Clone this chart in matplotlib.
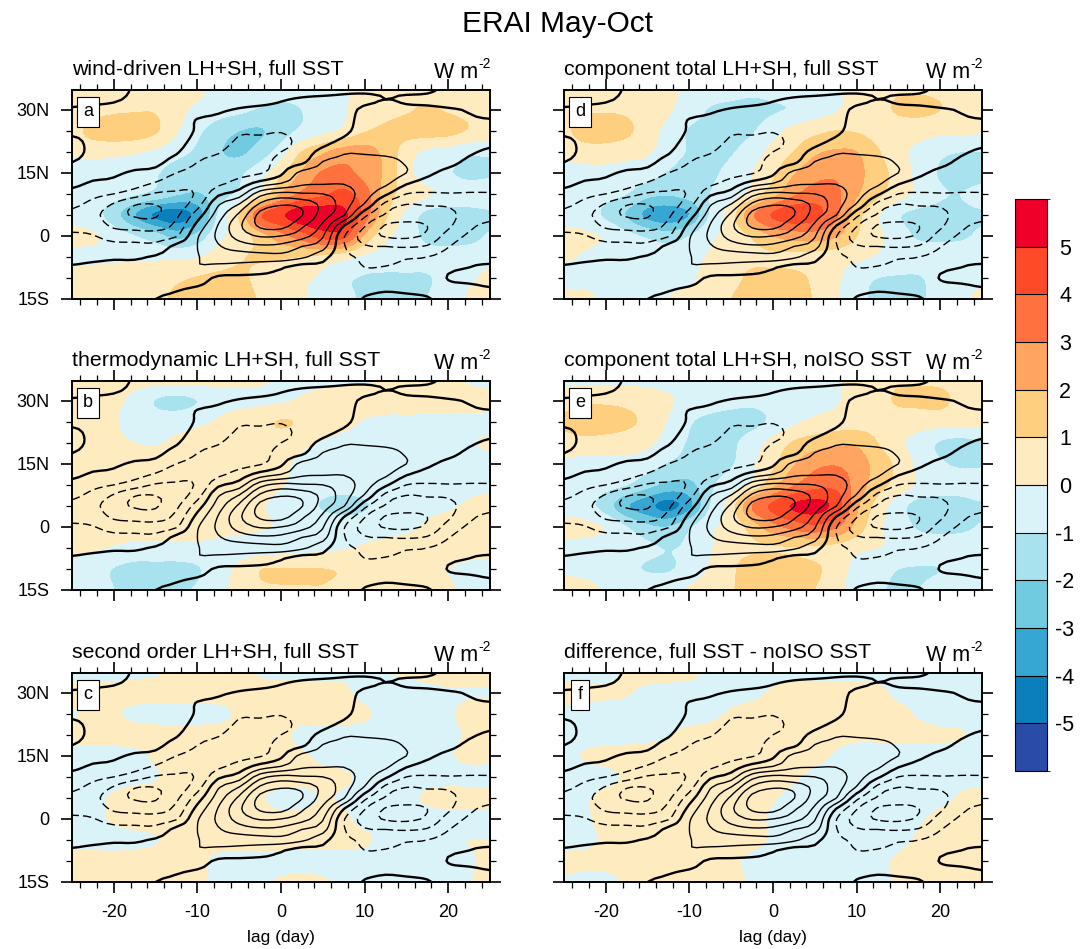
import numpy as np
import matplotlib
matplotlib.use('Agg')
from matplotlib import pyplot as plt
from matplotlib.colors import ListedColormap, BoundaryNorm

plt.rcParams['font.family'] = ['Liberation Sans', 'DejaVu Sans']
plt.rcParams['axes.unicode_minus'] = False

W, H = 1091, 949
lag = np.arange(-25.0, 25.1, 2.5)
lat_fill = np.arange(35.0, -15.1, -5.0)
lat_line = np.arange(-15.0, 35.1, 2.5)
levels = [-99, -5, -4, -3, -2, -1, 0, 1, 2, 3, 4, 5, 99]
colors = ['#2A4CA8', '#0A7FBC', '#36A6D2', '#70CBE0', '#A8E2EE', '#D9F3F9',
          '#FFEBC0', '#FFCF80', '#FFA55F', '#FF7240', '#FF4A28', '#EE0028']

# line field: one column per lag, from 15S up to 35N
line_cols = np.array([
    [.5,.6,.5,.1,-.3,-.6,-.9,-1.15,-1.2,-.8,-.3,.2,.3,0,-.3,-.2,.2,.3,.1,-.3,-.4],
    [.5,.6,.5,.2,-.2,-.6,-.95,-1.4,-1.7,-1.3,-.7,-.1,.2,.3,.2,.2,.3,.3,.15,-.2,-.4],
    [.5,.6,.5,.2,-.1,-.7,-1.4,-2.2,-2.6,-2.1,-1,-.2,.1,.3,.2,.2,.3,.3,.2,-.1,-.4],
    [.5,.55,.4,.2,-.1,-.7,-1.5,-2.4,-3.1,-2.95,-1.5,-.6,-.1,.2,.2,.2,.3,.3,.3,.15,.1],
    [0,.3,.4,.3,.1,-.7,-1.5,-2.5,-3.1,-3,-2.1,-1.1,-.3,.2,.3,.3,.3,.3,.3,.2,.1],
    [-.2,.1,.5,.6,.5,.3,-1.1,-1.7,-2.2,-2.5,-2.1,-1.7,-1,-.4,.1,.3,.4,.4,.3,.2,.1],
    [-.6,-.1,.4,.95,.95,1,.9,.3,-.5,-1.4,-1.9,-1.7,-1.3,-1,-.7,-.3,-.1,-.05,.3,.3,.1],
    [-.6,-.3,-.15,.75,1.4,1.9,2.2,2.05,1.5,.9,-.2,-1.2,-1.3,-1.2,-.95,-.7,-.5,-.2,.1,.2,.1],
    [-.5,-.3,-.2,.7,1.4,2.5,3.4,3.8,3.2,2.05,.5,-.6,-1.3,-1.4,-1.3,-1.1,-.9,-.5,-.05,.2,.2],
    [-.6,-.3,-.2,.5,1.5,2.8,4.1,5.2,5.3,4.2,2.6,.4,-1.1,-1.5,-1.6,-1.3,-.8,-.5,-.15,.2,.2],
    [-.5,-.3,-.2,.1,1.6,2.7,4,5.4,5.7,4.9,3.3,1,-.2,-.5,-1,-1.4,-.9,-.5,-.2,.05,.2],
    [-.5,-.3,-.3,-.4,1.2,2,3.4,4.2,5.05,4.7,3.1,1.8,1.3,-.2,-.5,-.6,-.5,-.4,-.3,-.05,.2],
    [-.5,-.4,-.3,-.2,.3,1.4,2.1,2.8,3.5,3.7,3,1.9,1.4,1.05,.3,-.3,-.4,-.3,-.3,-.1,.2],
    [-.6,-.5,-.5,-.6,-.7,-.9,-.9,.1,2.1,2.5,2.5,1.95,1.4,1.2,.9,.2,-.2,-.3,-.2,-.1,.1],
    [.1,-.4,-.6,-1,-1.2,-1.9,-2.4,-1.9,-.7,.9,1.5,1.5,1.5,1.3,.9,.6,.4,.3,.1,-.1,.1],
    [.4,-.2,-.7,-.95,-1.4,-2,-3.1,-3.05,-2.1,-1.3,.2,1.2,1.5,1.3,.8,.6,.5,.3,.2,0,.1],
    [.3,-.3,-.6,-.8,-1.1,-2.1,-3.2,-3.1,-2.7,-2,-1,.1,1,.9,.7,.6,.5,.3,.1,-.05,.1],
    [.1,-.4,-.6,-.8,-1,-1.9,-2.8,-3,-2.5,-1.9,-1.1,-.4,.2,.4,.5,.5,.4,.3,.1,-.1,.1],
    [-.4,-.3,.05,-.2,-.6,-1.05,-1.6,-2.2,-2.3,-1.85,-1.05,-.5,-.2,.2,.4,.4,.3,.2,.05,-.2,-.1],
    [-.3,-.2,.2,0,-.2,-.5,-.85,-1.2,-1.5,-1.4,-1.05,-.7,-.4,-.15,.1,.3,.3,.1,-.05,-.2,-.2],
    [-.3,-.05,.3,.1,-.2,-.4,-.6,-.85,-1.25,-1.4,-1.05,-.7,-.5,-.3,-.1,.15,.25,.05,-.3,-.3,-.2],
])

# filled fields: one row per latitude, from 35N down to 15S
wind_full = np.array([
    [.2,.3,.4,.4,.4,.4,.2,-.3,-.5,-.6,-.7,-.6,-.4,-.1,.3,.6,.8,.7,.5,.4,.3],
    [.4,.6,.8,.9,.9,.3,-.2,-.6,-.8,-1.1,-1.2,-1,-.6,-.1,.4,.7,.9,1.1,.9,.7,.6],
    [.7,1.3,1.6,1.5,1.1,.1,-.8,-1.5,-2,-2.1,-1.5,-.8,-.3,.2,.9,1.2,1.3,1.4,1.3,.9,.6],
    [.3,.3,.2,.1,-.2,-.7,-1.2,-1.9,-2.2,-1.6,-.5,1,1.8,2.4,2.4,1.7,.5,-.2,-.4,-.8,-.8],
    [-.9,-.5,-.4,-.5,-.9,-1.5,-1.6,-1.5,-1.2,-.4,.8,2.1,3.1,3.3,2.6,1.8,.3,-.5,-.9,-1.3,-1.2],
    [-.3,-.4,-.6,-.9,-1.3,-1.9,-2.1,-1.5,-.8,.2,2,3.2,3.8,4.2,3.4,1.5,.6,.1,-.3,-.4,-.3],
    [-.3,-.6,-1.6,-3,-4.2,-4.6,-3.6,-.9,1,3.8,4.8,5.6,5.6,5.2,3.5,1.2,-.3,-1.3,-1.5,-1.4,-1.2],
    [.2,.1,-.4,-1,-1.6,-2.4,-1.7,-.3,.4,1.5,2.6,3.5,4.4,4.3,1.8,.2,-.4,-1.3,-1.5,-1.4,-.9],
    [-.2,-.2,-.2,-.2,-.2,-.2,-.1,.4,.9,1.1,1.1,.95,.7,.3,-.2,-.4,-.4,-.6,-.5,-.4,-.3],
    [.4,.4,.5,.5,.5,.8,1.05,1.2,1.15,.8,.6,.2,-.2,-.8,-1.1,-1.2,-1.2,-1.1,-.6,-.2,.2],
    [.5,.6,.6,.6,.7,1.2,1.4,1.5,1.4,.9,.5,.1,-.3,-.7,-1.2,-1.5,-1.4,-1,-.5,.1,.5],
])
thermo_full = np.array([
    [.3,.3,.4,.3,.3,.3,.3,.2,.2,.1,-.1,-.2,-.2,-.2,-.1,0,.1,.2,.2,-.1,-.2],
    [.4,.4,.2,-.3,-1.05,-1.3,-1,-.4,-.3,-.2,-.1,.1,.3,.4,.5,.5,.5,.5,.5,.3,.2],
    [.4,.4,.1,-.4,-.5,-.4,-.2,.1,.5,.7,1.05,.9,.6,.3,-.1,-.3,-.3,-.3,-.3,-.2,-.2],
    [.4,.3,.2,0,-.1,.2,.4,.6,.7,.7,.5,.2,-.1,-.4,-.5,-.5,-.5,-.4,-.3,-.1,.1],
    [.4,.4,.5,.5,.5,.6,.7,.7,.7,.5,.2,-.2,-.5,-.6,-.6,-.6,-.5,-.4,-.3,-.3,-.2],
    [.4,.5,.6,.6,.6,.6,.6,.6,.5,.3,.05,-.3,-.6,-.7,-.6,-.5,-.4,-.3,-.3,-.2,-.2],
    [.4,.5,.6,.6,.6,.6,.6,.5,.4,.1,-.3,-.6,-1.1,-1.3,-1.1,-.6,-.4,-.2,-.1,.1,.3],
    [.4,.4,.5,.5,.5,.5,.5,.4,.3,.1,-.1,-.2,-.4,-.5,-.5,-.4,-.2,.1,.3,.4,.4],
    [.2,.1,-.1,-.3,-.3,-.3,-.3,-.4,-.5,-.5,-.4,-.3,-.2,-.1,.1,.3,.4,.4,.4,.3,.3],
    [-.2,-.5,-1.05,-1.3,-1.3,-1.3,-1.1,-.4,.2,.95,1,1,1,.9,.6,.4,.3,.2,0,-.2,-.3],
    [-.2,-.4,-1,-1.2,-1.2,-1.1,-.9,-.1,.1,.8,.95,.95,.95,.7,.4,.3,.2,.2,.1,-.2,-.3],
])
second_full = np.array([
    [-.3,-.3,-.3,-.2,-.1,.2,.3,.3,.2,-.1,-.2,-.2,-.2,-.1,-.05,0,.1,.2,.3,.3,.3],
    [.3,.3,.3,.3,.3,.3,.3,.3,.3,.3,.3,.3,.2,.1,-.2,-.3,-.3,-.2,-.1,-.05,-.05],
    [-.1,.2,.1,-.2,-.3,-.3,-.3,-.2,.1,.3,.3,.3,.3,.3,.1,-.2,-.3,-.3,-.1,.2,.3],
    [.3,.3,.3,.3,.3,.3,.3,.3,.3,.3,.2,-.2,-.3,-.3,-.3,-.3,-.3,-.3,-.2,.1,.3],
    [-.3,-.3,-.3,-.2,.1,.3,.3,.3,.3,.3,.2,.1,-.2,-.3,-.3,-.3,-.3,-.3,-.1,.2,.2],
    [-.3,-.3,-.3,-.2,-.05,.2,.3,.3,.3,.3,.3,.3,.2,.1,-.2,-.3,-.3,-.3,-.3,-.3,-.3],
    [-.2,-.2,.1,.3,.3,.3,.3,.3,.2,.05,-.2,-.3,.05,-.1,-.3,-.3,-.2,.1,.3,.3,.3],
    [-.2,-.2,.1,.3,.3,.3,.3,.3,.3,.3,.15,.3,.3,.1,-.2,-.3,-.3,-.3,-.3,-.3,-.3],
    [-.3,-.3,-.3,-.2,-.05,.2,.3,.3,.3,.3,.3,.3,.3,.2,.1,-.2,-.3,-.3,-.1,0,0],
    [.3,.3,.3,.3,.3,.3,.2,-.2,-.3,-.3,-.3,-.3,-.3,-.3,-.3,-.3,-.3,-.3,-.3,-.1,.2],
    [.3,.3,.3,.3,.3,.3,.2,-.2,-.2,-.2,.1,.2,.1,-.2,-.3,-.3,-.3,-.3,-.2,-.05,.3],
])
total_full = np.array([
    [.3,.4,.5,.5,.4,.2,-.2,-.4,-.6,-.8,-.7,-.5,-.3,-.1,.3,.7,.9,.9,.8,.6,.4],
    [.5,.8,.9,.8,.5,.1,-.5,-1.1,-1.3,-1.3,-1.1,-.9,-.5,-.1,.4,.7,1.1,1.2,1,.6,.4],
    [.8,1.4,1.5,1.2,.4,-.3,-1.1,-1.3,-1.4,-1.1,-.4,.3,.7,1,.9,.6,.5,.4,.2,.2,.1],
    [.2,.5,.5,.3,.1,-.5,-1.1,-1.3,-1.1,-.5,.3,1,1.8,2.1,2,1.1,.3,-.3,-.8,-1,-1],
    [-.3,-.3,-.3,-.4,-.6,-1.1,-1.5,-1.2,-.7,0,.8,1.9,2.6,2.8,2.3,1.4,.6,-.4,-1.1,-1.4,-1.4],
    [-.4,-.5,-.7,-1,-1.7,-1.9,-1.6,-1,-.4,.3,1.6,2.8,3.4,3.2,2.1,1.2,.4,-.3,-.9,-1,-.7],
    [-.3,-.5,-1.2,-2.1,-3.3,-3.6,-3,-.9,.5,2.8,4.1,4.6,4.3,3.2,1.4,.1,-.9,-1.3,-1.3,-1.2,-1.1],
    [.2,.1,-.1,-.7,-1.2,-1.6,-1,-.2,.3,1.1,2,2.4,2.5,2.1,1,.2,-.5,-1.2,-1.3,-1.2,-.8],
    [.1,-.1,-.3,-.3,-.3,-.3,-.3,.1,.6,.8,.8,.75,.6,.4,.2,-.1,-.3,-.3,-.2,-.2,-.1],
    [-.3,-.3,-.3,-.3,-.3,-.3,-.2,.4,.7,1.2,1.3,1.25,.8,.2,-.6,-1,-1.1,-1.1,-.5,-.2,-.2],
    [.3,.2,-.2,-.3,-.2,0,.3,.6,1,1.4,1.5,1.4,.9,.1,-.7,-1.2,-1.3,-1.2,-.5,-.2,.2],
])
total_noiso = np.array([
    [-.2,-.2,-.2,-.2,-.3,-.3,-.3,-.3,-.3,-.3,-.4,-.4,-.3,-.1,.3,.6,.9,.9,.8,.6,.3],
    [.5,.8,.8,.7,.5,.1,-.3,-.5,-.7,-.8,-.7,-.6,-.3,-.1,.4,.7,1.1,1.2,1.2,.7,.4],
    [1.2,1.6,1.5,1.2,.7,-.1,-.9,-1.3,-1.4,-1.3,-.8,-.2,.2,.4,.5,.6,.5,.4,.4,.3,.3],
    [.5,.6,.5,.4,.2,-.5,-1.1,-1.3,-1.2,-.5,.3,1.1,1.5,1.8,1.8,1,.2,-.4,-1.1,-1.3,-1.1],
    [-.2,-.3,-.3,-.3,-.6,-1.1,-1.3,-1.3,-1.1,-.2,.8,1.9,2.7,2.9,2.5,1.6,.7,-.3,-.9,-1.1,-1.1],
    [-.4,-.5,-.7,-1,-1.7,-2.3,-2.3,-1.2,-.5,.2,1.7,2.9,3.6,3.7,2.6,1.4,.6,-.2,-.6,-.7,-.5],
    [-.3,-.6,-1.5,-2.9,-3.7,-4.4,-3.3,-1,.5,3,4.2,5.1,5.3,4.6,2.2,.6,-.6,-1.4,-1.4,-1.3,-1.1],
    [.2,.2,-.1,-1,-1.8,-2,-1.2,-.2,.3,1.4,2.6,3.3,3.7,3.1,1.6,.2,-.4,-1.2,-1.4,-1.3,-.9],
    [-.2,-.3,-.4,-.4,-.8,-1.05,-.8,-.1,.6,.85,.9,.9,.8,.6,.2,0,-.1,-.2,-.3,-.2,-.2],
    [-.2,-.3,-.4,-.7,-1.1,-1.1,-.6,.1,.8,1.5,1.9,1.6,1.2,.5,-.3,-.6,-1,-1.1,-1,-.3,-.2],
    [.5,.3,-.1,-.2,-.2,-.2,.1,.4,.9,1.5,1.9,1.5,1,.3,-.4,-.9,-1.1,-1,-.5,-.2,-.1],
])
difference = np.array([
    [-.3,-.3,-.2,.1,.3,.3,.2,-.2,-.3,-.3,-.3,-.3,-.3,-.3,-.3,-.3,-.3,-.3,-.3,-.3,-.3],
    [.3,.2,.1,.05,-.2,-.3,-.3,-.3,-.3,-.2,.1,.3,.3,.3,.3,.2,-.2,-.3,-.3,-.3,-.3],
    [-.3,-.3,-.3,-.3,-.3,-.3,-.3,-.2,.1,.3,.3,.3,.3,.3,.3,.3,.2,-.1,-.3,-.3,-.3],
    [-.3,-.3,-.3,-.3,-.2,-.05,.2,.3,.3,.3,.3,.3,.3,.2,.15,.15,.15,.15,.1,.05,-.2],
    [-.2,.05,.2,.3,.3,.3,.3,.3,.3,.3,.3,.3,.2,-.1,-.3,-.3,-.3,-.3,-.3,-.3,-.3],
    [-.3,-.3,-.2,.1,.3,.3,.3,.3,.3,.3,.3,.1,-.2,-.3,-.3,-.3,-.3,-.3,-.3,-.3,-.3],
    [-.3,-.1,.2,.3,.3,.3,.5,.6,.3,.2,.05,-.2,-.3,-.3,-.3,-.3,-.3,-.3,-.2,.1,.3],
    [-.3,-.1,.2,.3,.3,.3,.3,.3,.3,.2,-.1,-.3,-.3,-.3,-.3,-.3,-.3,-.1,.2,.3,.3],
    [-.3,-.2,.1,.3,.3,.3,.3,.3,.3,.2,-.1,-.3,-.3,-.3,-.3,-.3,-.2,.1,.3,.3,.3],
    [.2,.2,.2,.2,.3,.3,.3,.3,.2,-.2,-.3,-.3,-.3,-.3,-.3,-.2,.1,.3,.3,.3,.3],
    [-.1,-.3,-.2,.1,.3,.3,.3,.3,.2,-.1,-.3,-.3,-.3,-.3,-.3,-.2,.1,.3,.3,.3,.3],
])

titles = ['wind-driven LH+SH, full SST', 'thermodynamic LH+SH, full SST', 'second order LH+SH, full SST',
          'component total LH+SH, full SST', 'component total LH+SH, noISO SST', 'difference, full SST - noISO SST']
letters = ['a', 'b', 'c', 'd', 'e', 'f']
fields = [wind_full, thermo_full, second_full, total_full, total_noiso, difference]
lefts = [72, 72, 72, 564, 564, 564]
tops = [90, 381, 673, 90, 381, 673]


def refine(z, n=8):
    # cubic convolution along both axes, only to round off the drawn shapes
    def along(a):
        p = np.concatenate([a[:1], a, a[-1:]])
        out = []
        for i in range(1, len(p) - 2):
            for t in np.arange(n) / n:
                out.append(0.5 * (2 * p[i] + (p[i + 1] - p[i - 1]) * t
                                  + (2 * p[i - 1] - 5 * p[i] + 4 * p[i + 1] - p[i + 2]) * t ** 2
                                  + (3 * p[i] - p[i - 1] - 3 * p[i + 1] + p[i + 2]) * t ** 3))
        out.append(p[-2])
        return np.array(out)
    return along(along(z).T).T


def fine(v, n=8):
    return np.interp(np.arange((len(v) - 1) * n + 1) / n, np.arange(len(v)), v)


fig = plt.figure(figsize=(W / 100, H / 100), dpi=100)
line_x = fine(lag, 3)
line_y = fine(lat_line, 3)
line_z = refine(line_cols.T, 3)
for i in range(6):
    ax = fig.add_axes([lefts[i] / W, 1 - (tops[i] + 209) / H, 418 / W, 209 / H])
    cf = ax.contourf(fine(lag), fine(lat_fill), refine(fields[i]), levels=levels,
                     cmap=ListedColormap(colors), norm=BoundaryNorm(levels, 12))
    ax.contour(line_x, line_y, line_z, levels=[-3, -2, -1], colors='k', linewidths=1.0,
               linestyles=[(0, (6, 3))])
    ax.contour(line_x, line_y, line_z, levels=[0], colors='k', linewidths=1.7, linestyles='solid')
    ax.contour(line_x, line_y, line_z, levels=[1, 2, 3, 4, 5], colors='k', linewidths=1.0, linestyles='solid')
    ax.set_xlim(-25, 25)
    ax.set_ylim(-15, 34.7)
    ax.set_xticks([-20, -10, 0, 10, 20])
    ax.set_xticks(np.arange(-24, 25, 2), minor=True)
    ax.set_yticks([-15, 0, 15, 30])
    ax.set_yticks([-10, -5, 5, 10, 20, 25], minor=True)
    ax.tick_params(which='major', length=8, width=1.2, direction='out', top=True, right=True,
                   labelsize=13, pad=8)
    ax.tick_params(which='minor', length=4, width=0.9, direction='out', top=True, right=True)
    for s in ax.spines.values():
        s.set_linewidth(1.4)
    if i < 3:
        ax.set_yticklabels(['15S', '0', '15N', '30N'])
    else:
        ax.set_yticklabels([])
    if i in (2, 5):
        ax.set_xlabel('lag (day)', fontsize=12.5, labelpad=6)
    else:
        ax.set_xticklabels([])
    ax.text(0, 0.072 + 1, titles[i], transform=ax.transAxes, fontsize=15.4, ha='left', va='baseline')
    ax.text(0.971, 1.057, 'W m', transform=ax.transAxes, fontsize=15.5, ha='right', va='baseline')
    ax.text(0.971, 1.105, '-2', transform=ax.transAxes, fontsize=10, ha='left', va='baseline')
    ax.text(0.0385, 0.895, letters[i], transform=ax.transAxes, fontsize=13, ha='center', va='center',
            bbox=dict(boxstyle='square,pad=0.35', fc='white', ec='k', lw=0.8))

cax = fig.add_axes([1015 / W, 1 - 771 / H, 32 / W, 572 / H])
cb = fig.colorbar(cf, cax=cax, ticks=levels[1:-1], spacing='uniform', drawedges=True)
cb.ax.tick_params(length=0, labelsize=15.5, pad=13)
cb.set_ticklabels(['-5', '-4', '-3', '-2', '-1', '0', '1', '2', '3', '4', '5'])
for t in cb.ax.get_yticklabels():
    t.set_ha('center')
cb.dividers.set_color('k')
cb.dividers.set_linewidth(0.8)
cb.outline.set_linewidth(0.8)

fig.text(557 / W, 1 - 24 / H, 'ERAI May-Oct', fontsize=21.5, ha='center', va='center')
fig.savefig('out.png', dpi=100)
plt.close()
